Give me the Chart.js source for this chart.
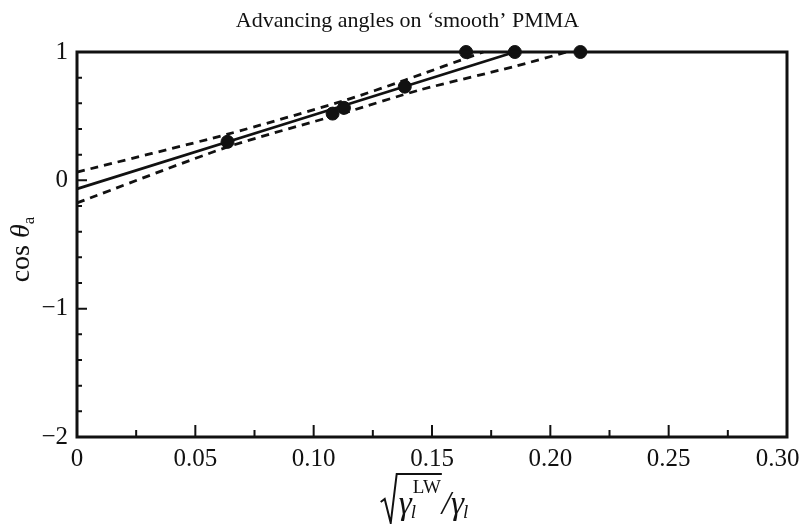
<!DOCTYPE html>
<html>
<head>
<meta charset="utf-8">
<script src="https://cdn.jsdelivr.net/npm/chart.js@4.4.1/dist/chart.umd.min.js"></script>
<style>
  html, body { margin: 0; padding: 0; background: #fff; }
</style>
</head>
<body>
<canvas id="advancing-angle-canvas" width="802" height="524"></canvas>
<script>
// measured advancing angles (cos theta_a) against sqrt(gamma_l^LW)/gamma_l
const pointX = [0.0636, 0.108, 0.1128, 0.1385, 0.1644, 0.185, 0.2127]
const pointY = [0.30, 0.52, 0.565, 0.73, 1, 1, 1]

// least squares line
const fitX = [0, 0.185]
const fitY = [-0.067, 1]

// confidence band
const upperX = [0, 0.0633, 0.1127, 0.1384, 0.1717]
const upperY = [0.064, 0.358, 0.62, 0.78, 1]
const lowerX = [0, 0.0633, 0.1127, 0.145, 0.1848, 0.207]
const lowerY = [-0.176, 0.258, 0.524, 0.705, 0.887, 1]

const xTicks = [0, 0.05, 0.10, 0.15, 0.20, 0.25, 0.30]
const yTicks = [-2, -1, 0, 1]

const INK = '#111'
const SERIF = '"Liberation Serif", "DejaVu Serif", serif'

const toPoints = (xs, ys) => xs.map((x, i) => ({ x, y: ys[i] }))

// ticks point into the plot, plus a closed frame
const frameAndTicks = {
  id: 'frameAndTicks',
  afterDraw (chart) {
    const { ctx, chartArea: a, scales } = chart
    ctx.save()
    ctx.strokeStyle = INK
    ctx.lineWidth = 2
    ctx.beginPath()
    for (let i = 0; i < xTicks.length - 1; i++) {
      const minor = scales.x.getPixelForValue((xTicks[i] + xTicks[i + 1]) / 2)
      ctx.moveTo(minor, a.bottom)
      ctx.lineTo(minor, a.bottom - 7)
      if (i > 0) {
        const major = scales.x.getPixelForValue(xTicks[i])
        ctx.moveTo(major, a.bottom)
        ctx.lineTo(major, a.bottom - 12)
      }
    }
    for (let i = 0; i < yTicks.length - 1; i++) {
      for (let k = 0; k < 5; k++) {
        const py = scales.y.getPixelForValue(yTicks[i] + k * 0.2)
        const len = k === 0 ? 10 : 5
        ctx.moveTo(a.left, py)
        ctx.lineTo(a.left + len, py)
      }
    }
    ctx.stroke()
    ctx.lineWidth = 3
    ctx.strokeRect(a.left, a.top, a.right - a.left, a.bottom - a.top)
    ctx.restore()
  }
}

// axis titles need italics, a radical sign and sub/superscripts
const axisTitles = {
  id: 'axisTitles',
  afterDraw (chart) {
    const { ctx, chartArea: a } = chart
    const width = (txt, font) => { ctx.font = font; return ctx.measureText(txt).width }

    ctx.save()
    ctx.fillStyle = INK
    ctx.strokeStyle = INK
    ctx.textBaseline = 'alphabetic'
    ctx.textAlign = 'left'

    // y title: cos theta_a
    const big = '28px ' + SERIF
    const bigIt = 'italic 28px ' + SERIF
    const small = '17px ' + SERIF
    const wCos = width('cos ', big)
    const wTheta = width('θ', bigIt)
    const wA = width('a', small)
    const yLen = wCos + wTheta + wA
    ctx.translate(29, (a.top + a.bottom) / 2 + 5)
    ctx.rotate(-Math.PI / 2)
    let cx = -yLen / 2
    ctx.font = big
    ctx.fillText('cos ', cx, 0)
    cx += wCos
    ctx.font = bigIt
    ctx.fillText('θ', cx, 0)
    cx += wTheta
    ctx.font = small
    ctx.fillText('a', cx, 5)
    ctx.setTransform(1, 0, 0, 1, 0, 0)

    // x title: sqrt(gamma_l^LW) / gamma_l
    const gFont = 'italic 33px ' + SERIF
    const subFont = 'italic 19px ' + SERIF
    const supFont = '19px ' + SERIF
    const base = 514
    const wG = width('γ', gFont)
    const wl = width('l', subFont)
    const wLW = width('LW', supFont)
    const wSlash = width('/', gFont)
    const rad = 18
    const inner = wG + Math.max(wl, wLW) + 2
    const total = rad + inner + wSlash + wG + wl
    let x0 = 425 - total / 2

    ctx.lineWidth = 2
    ctx.beginPath()
    ctx.moveTo(x0, base - 12)
    ctx.lineTo(x0 + 4, base - 15)
    ctx.lineTo(x0 + 10, base + 9)
    ctx.lineTo(x0 + rad - 2, base - 40)
    ctx.lineTo(x0 + rad + inner, base - 40)
    ctx.stroke()

    x0 += rad
    ctx.font = gFont
    ctx.fillText('γ', x0, base)
    ctx.font = subFont
    ctx.fillText('l', x0 + wG - 1, base + 4)
    ctx.font = supFont
    ctx.fillText('LW', x0 + wG + 1, base - 21)
    x0 += inner
    ctx.font = gFont
    ctx.fillText('/', x0, base)
    x0 += wSlash
    ctx.fillText('γ', x0, base)
    ctx.font = subFont
    ctx.fillText('l', x0 + wG - 1, base + 4)
    ctx.restore()
  }
}

const lineSet = (xs, ys, dash) => ({
  type: 'scatter',
  showLine: true,
  data: toPoints(xs, ys),
  borderColor: INK,
  borderWidth: 2.8,
  borderDash: dash,
  pointRadius: 0,
  tension: 0.25,
  clip: false
})

const data = {
  datasets: [
    {
      type: 'scatter',
      data: toPoints(pointX, pointY),
      backgroundColor: INK,
      borderColor: INK,
      pointRadius: 6.5,
      pointHoverRadius: 6.5,
      clip: false
    },
    lineSet(fitX, fitY, []),
    lineSet(upperX, upperY, [8, 6]),
    lineSet(lowerX, lowerY, [8, 6])
  ]
}

const options = {
  responsive: false,
  animation: false,
  events: [],
  layout: { padding: { left: 28, right: 15, top: 0, bottom: 0 } },
  scales: {
    x: {
      type: 'linear',
      min: 0,
      max: 0.3,
      grid: { display: false, drawTicks: false },
      border: { display: false },
      ticks: {
        stepSize: 0.05,
        padding: 7,
        color: INK,
        font: { family: SERIF, size: 25 },
        maxRotation: 0,
        autoSkip: false,
        // last label sits a little left of its tick in the original
        callback: (v) => v === 0 ? '0' : (Math.abs(v - 0.3) < 1e-9 ? '0.30   ' : v.toFixed(2))
      },
      afterFit (scale) {
        scale.height = 87
        scale.paddingLeft = 0
        scale.paddingRight = 0
      }
    },
    y: {
      type: 'linear',
      min: -2,
      max: 1,
      grid: { display: false, drawTicks: false },
      border: { display: false },
      ticks: {
        stepSize: 1,
        padding: 9,
        color: INK,
        font: { family: SERIF, size: 25 },
        callback: (v) => v < 0 ? '\u2212' + Math.abs(v) : String(v)
      },
      afterFit (scale) {
        scale.width = 49
        scale.paddingTop = 0
        scale.paddingBottom = 0
      }
    }
  },
  plugins: {
    legend: { display: false },
    tooltip: { enabled: false },
    title: {
      display: true,
      text: 'Advancing angles on \u2018smooth\u2019 PMMA',
      color: INK,
      font: { family: SERIF, size: 22, weight: 'normal' },
      padding: { top: 8, bottom: 17.6 }
    }
  }
}

new Chart(document.getElementById('advancing-angle-canvas').getContext('2d'), {
  data,
  options,
  plugins: [frameAndTicks, axisTitles]
})
</script>
</body>
</html>
